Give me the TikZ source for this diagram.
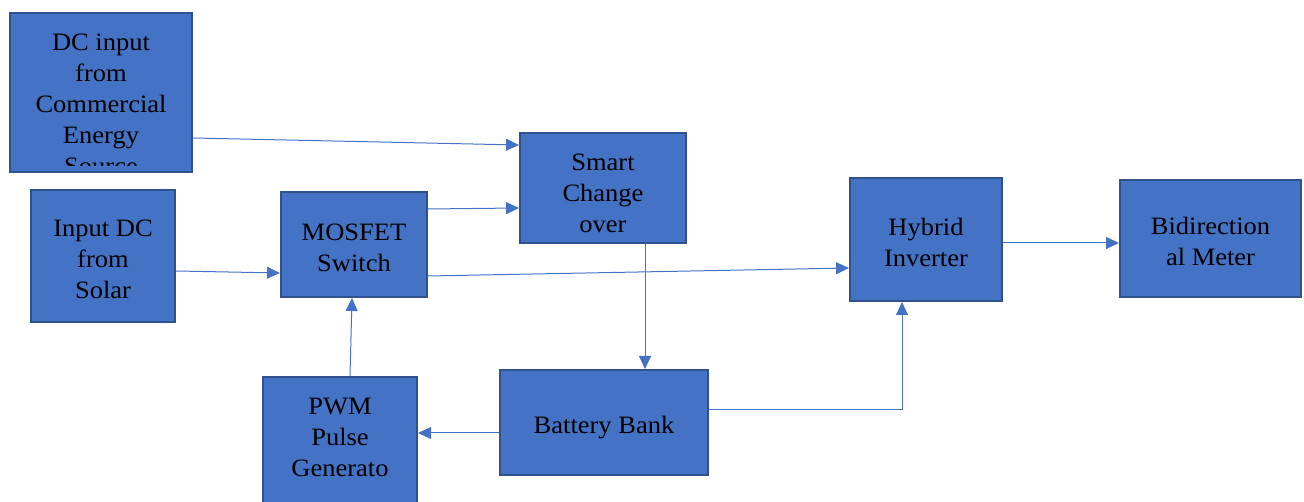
\documentclass[tikz,border=0pt]{standalone}
\usepackage{fontspec}
\setmainfont{Liberation Serif}[FakeStretch=1.06]
\usetikzlibrary{arrows.meta,calc}
\definecolor{boxfill}{HTML}{4472C4}
\definecolor{boxedge}{HTML}{2F528F}
\definecolor{wire}{HTML}{4472C4}
\tikzset{
  blk/.style={draw=boxedge, line width=2pt, fill=boxfill, inner sep=0pt},
  txt/.style={inner sep=0pt, align=center, font=\fontsize{25}{31}\selectfont, text=black},
  wireline/.style={draw=wire, line width=1pt, -{Triangle[length=13pt,width=12pt]}},
}
\begin{document}
\begin{tikzpicture}[x=1pt,y=1pt]
\useasboundingbox (0,0) rectangle (1304,502);
% boxes
\node[blk, minimum width=182pt, minimum height=159pt] (dc) at (101,409.5) {};
\begin{scope}
  \clip (10,336) rectangle (192,489);
  \node[txt] (dctext) at (101,397.5) {DC input\\from\\Commercial\\Energy\\Source};
\end{scope}
\node[blk, minimum width=144pt, minimum height=132pt] (solar) at (103,246) {};
\node[txt] (solartext) at ([yshift=-3.5pt]solar.center) {Input DC\\from\\Solar};
\node[blk, minimum width=146pt, minimum height=105pt] (mosfet) at (354,257.5) {};
\node[txt] (mosfettext) at ([yshift=-3pt]mosfet.center) {MOSFET\\Switch};
\node[blk, minimum width=166pt, minimum height=110pt] (smart) at (603,314) {};
\node[txt] (smarttext) at ([yshift=-5pt]smart.center) {Smart\\Change\\over};
\node[blk, minimum width=152pt, minimum height=123pt] (hybrid) at (926,262.5) {};
\node[txt] (hybridtext) at ([yshift=-3pt]hybrid.center) {Hybrid\\Inverter};
\node[blk, minimum width=181pt, minimum height=117pt] (bidir) at (1210.5,263.5) {};
\node[txt] (bidirtext) at ([yshift=-3pt]bidir.center) {Bidirection\\al Meter};
\node[blk, minimum width=154pt, minimum height=130pt] (pwm) at (340,60) {};
\node[txt] (pwmtext) at (340,65) {PWM\\Pulse\\Generato};
\node[blk, minimum width=208pt, minimum height=105pt] (battery) at (604,79.5) {};
\node[txt] (batterytext) at ([yshift=-5pt]battery.center) {Battery Bank};
% connectors
\draw[wireline] ([yshift=-45.5pt]dc.east) -- ([yshift=43pt]smart.west);
\draw[wireline] ([yshift=35.5pt]mosfet.east) -- ([yshift=-20pt]smart.west);
\draw[wireline] ([yshift=-15pt]solar.east) -- ([yshift=-28.5pt]mosfet.west);
\draw[wireline] ([yshift=-31.5pt]mosfet.east) -- ([yshift=-28.5pt]hybrid.west);
\draw[wireline] ([yshift=-3.5pt]hybrid.east) -- ([yshift=-4.5pt]bidir.west);
\draw[wireline] ([xshift=42pt]smart.south) -- ([xshift=41pt]battery.north);
\draw[wireline] ([yshift=12.5pt]battery.east) -| ([xshift=-24pt]hybrid.south);
\draw[wireline] ([yshift=-10.5pt]battery.west) -- ([yshift=9pt]pwm.east);
\draw[wireline] ([xshift=10pt]pwm.north) -- ([xshift=-2pt]mosfet.south);
\end{tikzpicture}
\end{document}
